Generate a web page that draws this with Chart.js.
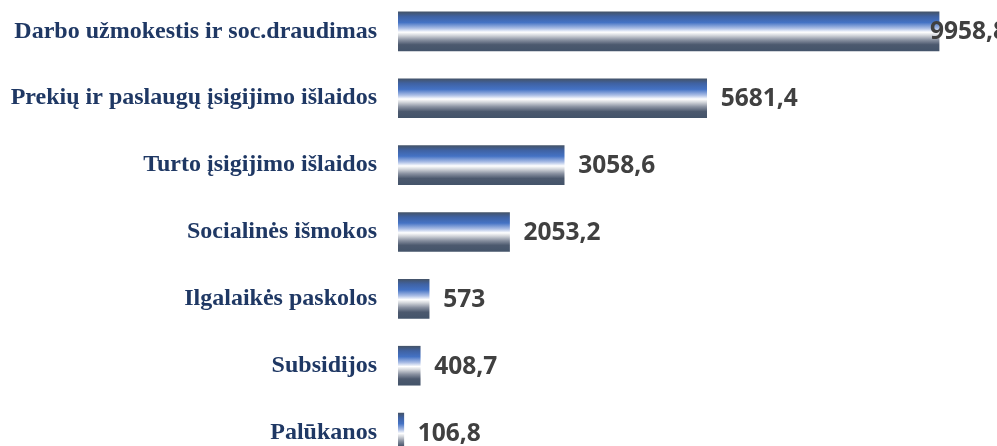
<!DOCTYPE html>
<html>
<head>
<meta charset="utf-8">
<script src="https://cdn.jsdelivr.net/npm/chart.js@4"></script>
<style>
  html, body { margin: 0; padding: 0; background: #fff; overflow: hidden; }
  #wrap { position: relative; width: 997px; height: 468px; margin-top: -2px; }
</style>
</head>
<body>
<div id="wrap"><canvas id="myChart"></canvas></div>
<script>
const categories = [
  "Darbo užmokestis ir soc.draudimas",
  "Prekių ir paslaugų įsigijimo išlaidos",
  "Turto įsigijimo išlaidos",
  "Socialinės išmokos",
  "Ilgalaikės paskolos",
  "Subsidijos",
  "Palūkanos",
];
const values = [9958.8, 5681.4, 3058.6, 2053.2, 573, 408.7, 106.8];

const BAR_H = 39;

// vertikalus gradientas kiekvienam stulpeliui
function barGradient(context) {
  const chart = context.chart;
  const yScale = chart.scales.y;
  if (!yScale) return "#4472C4";
  const yc = yScale.getPixelForValue(context.dataIndex);
  const g = chart.ctx.createLinearGradient(0, yc - BAR_H / 2, 0, yc + BAR_H / 2);
  g.addColorStop(0, "#44546a");
  g.addColorStop(0.12, "#3f62a3");
  g.addColorStop(0.27, "#4472c4");
  g.addColorStop(0.42, "#aabde5");
  g.addColorStop(0.52, "#ffffff");
  g.addColorStop(0.6, "#d4d7dc");
  g.addColorStop(0.72, "#8890a0");
  g.addColorStop(0.84, "#4c596e");
  g.addColorStop(1, "#44546a");
  return g;
}

const valueLabels = {
  id: "valueLabels",
  afterDatasetsDraw(chart) {
    const ctx = chart.ctx;
    const meta = chart.getDatasetMeta(0);
    ctx.save();
    ctx.font = "bold 24.5px 'Open Sans'";
    ctx.fillStyle = "#404040";
    ctx.textBaseline = "middle";
    ctx.textAlign = "left";
    meta.data.forEach((bar, i) => {
      const txt = String(values[i]).replace(".", ",");
      const x = Math.min(bar.x + 14, 930);
      ctx.fillText(txt, x, bar.y + 1);
    });
    ctx.restore();
  },
};

const ctx = document.querySelector("#myChart");

const myChart = new Chart(ctx, {
  type: "bar",
  data: {
    labels: categories,
    datasets: [
      {
        data: values,
        backgroundColor: barGradient,
        borderWidth: 0,
        barThickness: BAR_H,
      },
    ],
  },
  options: {
    indexAxis: "y",
    responsive: true,
    maintainAspectRatio: false,
    animation: { duration: 0 },
    layout: { padding: 0 },
    plugins: {
      legend: false,
      tooltip: { enabled: false },
    },
    scales: {
      x: {
        display: false,
        min: 0,
        max: 11025,
      },
      y: {
        grid: { display: false, drawTicks: false },
        border: { display: false },
        afterFit(scale) {
          scale.width = 398;
          // be papildomo tarpo virsuje ir apacioje
          scale.paddingTop = 0;
          scale.paddingBottom = 0;
        },
        ticks: {
          padding: 21,
          color: "#1f3864",
          font: { family: "'Liberation Serif'", weight: "bold", size: 24 },
        },
      },
    },
  },
  plugins: [valueLabels],
});
</script>
</body>
</html>
